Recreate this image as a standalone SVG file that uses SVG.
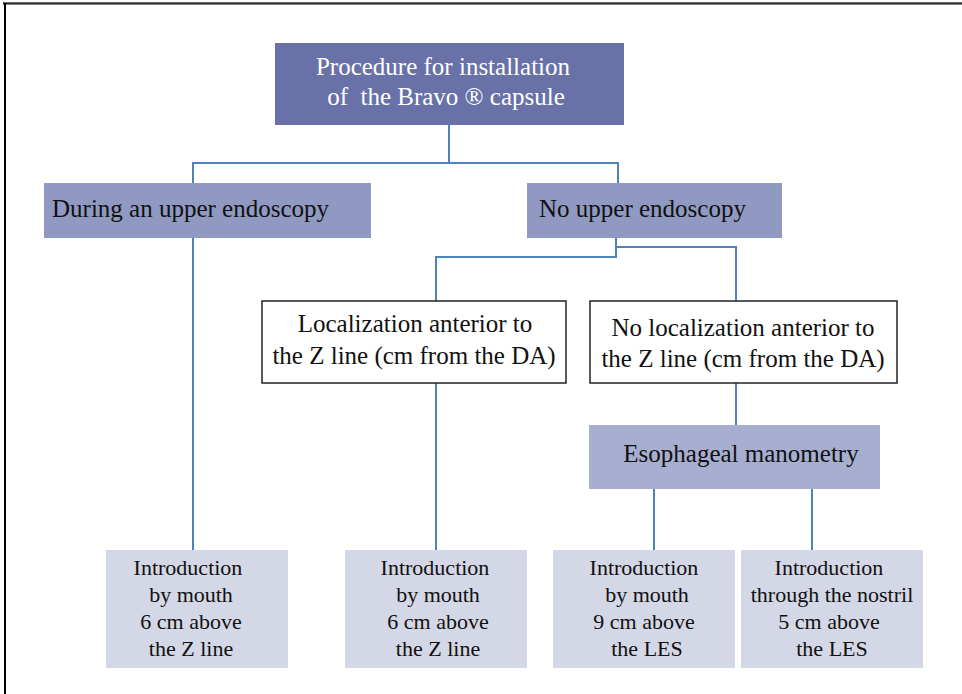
<svg xmlns="http://www.w3.org/2000/svg" width="962" height="694" viewBox="0 0 962 694">
<style>
text{text-anchor:middle;fill:#111}
.w{fill:#fff}
.c{fill:none;stroke:#4F81BD;stroke-width:2}
.ob{fill:#fff;stroke:#222;stroke-width:1.5}
</style>
<rect x="0" y="0" width="962" height="694" fill="#fff"/>
<g id="frame">
<line x1="3" y1="3" x2="962" y2="3" stroke="#666" stroke-width="2"/>
<line x1="3" y1="4" x2="962" y2="4" stroke="#000" stroke-width="1"/>
<line x1="5" y1="3" x2="5" y2="694" stroke="#000" stroke-width="2"/>
</g>
<g id="connectors">
<polyline class="c" points="449,125 449,163"/>
<polyline class="c" points="193,183 193,163 618,163 618,183"/>
<line class="c" x1="193" y1="238" x2="193" y2="550"/>
<polyline class="c" points="616,238 616,257 436,257 436,301"/>
<polyline class="c" points="616,247 736,247 736,301"/>
<line class="c" x1="436" y1="383" x2="436" y2="550"/>
<line class="c" x1="736" y1="383" x2="736" y2="425"/>
<line class="c" x1="654" y1="489" x2="654" y2="550"/>
<line class="c" x1="812" y1="489" x2="812" y2="550"/>
</g>
<g id="root">
<rect x="275" y="43" width="349" height="82" fill="#6872A8"/>
<text class="w" font-family="Liberation Serif" font-size="25" x="443" y="75">Procedure for installation</text>
<text class="w" font-family="Liberation Serif" font-size="25" x="446" y="105" xml:space="preserve">of  the Bravo ® capsule</text>
</g>
<g id="during">
<rect x="44" y="183" width="327" height="55" fill="#8F99C1"/>
<text font-family="Liberation Serif" font-size="25" x="52" y="217" style="text-anchor:start">During an upper endoscopy</text>
</g>
<g id="noendo">
<rect x="527" y="183" width="255" height="55" fill="#8F99C1"/>
<text font-family="Liberation Serif" font-size="25" x="539" y="217" style="text-anchor:start">No upper endoscopy</text>
</g>
<g id="loc">
<rect class="ob" x="262" y="301" width="304" height="82"/>
<text font-family="Liberation Serif" font-size="25" x="415" y="332">Localization anterior to</text>
<text font-family="Liberation Serif" font-size="25" x="414" y="364">the Z line (cm from the DA)</text>
</g>
<g id="noloc">
<rect class="ob" x="590" y="301" width="307" height="82"/>
<text font-family="Liberation Serif" font-size="25" x="743" y="336">No localization anterior to</text>
<text font-family="Liberation Serif" font-size="25" x="743" y="367">the Z line (cm from the DA)</text>
</g>
<g id="mano">
<rect x="589" y="425" width="291" height="64" fill="#A7AECF"/>
<text font-family="Liberation Serif" font-size="25" x="741" y="462">Esophageal manometry</text>
</g>
<g id="b1">
<rect x="106" y="550" width="182" height="118" fill="#D4D7E6"/>
<text font-family="Liberation Serif" font-size="22" x="188" y="575">Introduction</text>
<text font-family="Liberation Serif" font-size="22" x="191" y="602">by mouth</text>
<text font-family="Liberation Serif" font-size="22" x="191" y="629">6 cm above</text>
<text font-family="Liberation Serif" font-size="22" x="191" y="656">the Z line</text>
</g>
<g id="b2">
<rect x="345" y="550" width="182" height="118" fill="#D4D7E6"/>
<text font-family="Liberation Serif" font-size="22" x="435" y="575">Introduction</text>
<text font-family="Liberation Serif" font-size="22" x="438" y="602">by mouth</text>
<text font-family="Liberation Serif" font-size="22" x="438" y="629">6 cm above</text>
<text font-family="Liberation Serif" font-size="22" x="438" y="656">the Z line</text>
</g>
<g id="b3">
<rect x="553" y="550" width="182" height="118" fill="#D4D7E6"/>
<text font-family="Liberation Serif" font-size="22" x="644" y="575">Introduction</text>
<text font-family="Liberation Serif" font-size="22" x="647" y="602">by mouth</text>
<text font-family="Liberation Serif" font-size="22" x="644" y="629">9 cm above</text>
<text font-family="Liberation Serif" font-size="22" x="647" y="656">the LES</text>
</g>
<g id="b4">
<rect x="741" y="550" width="182" height="118" fill="#D4D7E6"/>
<text font-family="Liberation Serif" font-size="22" x="829" y="575">Introduction</text>
<text font-family="Liberation Serif" font-size="22" x="832" y="602">through the nostril</text>
<text font-family="Liberation Serif" font-size="22" x="829" y="629">5 cm above</text>
<text font-family="Liberation Serif" font-size="22" x="832" y="656">the LES</text>
</g>
</svg>
